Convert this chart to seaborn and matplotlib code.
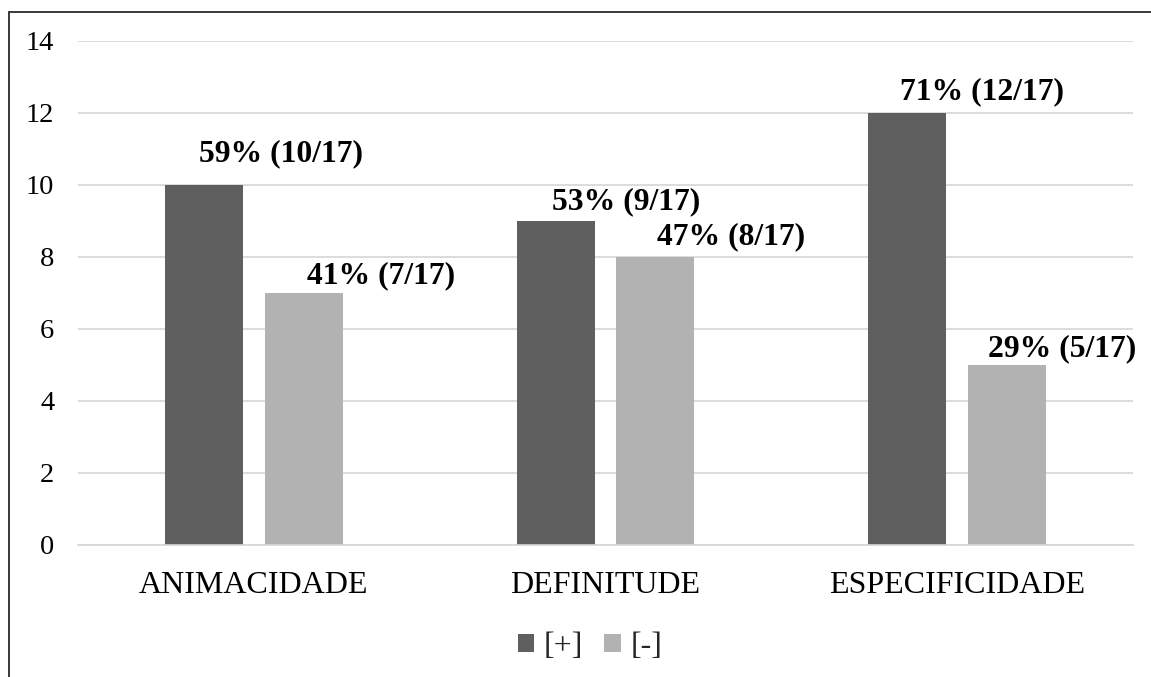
import matplotlib
matplotlib.use("Agg")
import matplotlib.pyplot as plt
from matplotlib.lines import Line2D
from matplotlib.patches import Patch
import pandas as pd
import seaborn as sns

# Data
categories = ["ANIMACIDADE", "DEFINITUDE", "ESPECIFICIDADE"]
series = ["[+]", "[-]"]
counts_pos = [10, 9, 12]
counts_neg = [7, 8, 5]
total = 17
y_ticks = [0, 2, 4, 6, 8, 10, 12, 14]

# Label placement (pixel offsets from each bar's top centre)
label_offsets = {
    "[+]": [(77.5, 31), (71, 19), (75, 21.5)],
    "[-]": [(77, 17), (76, 20), (55, 16)],
}

colors = {"[+]": "#5f5f5f", "[-]": "#b2b2b2"}

df = pd.DataFrame({
    "categoria": categories * 2,
    "grupo": [series[0]] * 3 + [series[1]] * 3,
    "n": counts_pos + counts_neg,
})

sns.set_theme(style="white")
plt.rcParams["font.family"] = ["Liberation Serif", "DejaVu Serif"]

DPI = 100
fig = plt.figure(figsize=(11.51, 6.77), dpi=DPI)
ax = fig.add_axes([78 / 1151, 1 - 545 / 677, (1133 - 78) / 1151, (545 - 41) / 677])

sns.barplot(data=df, x="categoria", y="n", hue="grupo", order=categories,
            hue_order=series, palette=colors, width=0.568, gap=0.22,
            saturation=1, legend=False, ax=ax, edgecolor="none")

ax.set_ylim(0, 14)
ax.set_xlim(-0.5, 2.5)
ax.set_yticks(y_ticks)
ax.set_yticklabels([str(t) for t in y_ticks])
ax.set_xlabel("")
ax.set_ylabel("")
ax.yaxis.grid(True, color="#d6d6d6", linewidth=1.2)
ax.set_axisbelow(True)
for side in ["top", "right", "left"]:
    ax.spines[side].set_visible(False)
ax.spines["bottom"].set_color("#d6d6d6")
ax.spines["bottom"].set_linewidth(1.2)
ax.tick_params(axis="y", length=0, pad=17, labelsize=20.5, colors="black")
ax.tick_params(axis="x", length=0, pad=19, labelsize=23, colors="black")

# Value labels
px = 72.0 / DPI
for level, container in zip(series, ax.containers):
    for i, bar in enumerate(container):
        val = bar.get_height()
        pct = round(val / total * 100)
        dx, dy = label_offsets[level][i]
        ax.annotate(f"{pct}% ({int(val)}/{total})",
                    xy=(bar.get_x() + bar.get_width() / 2, val),
                    xytext=(dx * px, dy * px), textcoords="offset points",
                    ha="center", va="center", fontsize=22.75,
                    fontweight="bold", color="black", annotation_clip=False)

# Legend below the plot
handles = [Patch(facecolor=colors[s], edgecolor="none", label=s) for s in series]
fig.legend(handles=handles, loc="center", bbox_to_anchor=(590 / 1151, 1 - 647 / 677),
           ncol=2, frameon=False, fontsize=23, handlelength=0.52, handleheight=0.52,
           handletextpad=0.3, columnspacing=0.65, borderpad=0)

# Chart frame (left and top edges)
frame_color = "#3a3a3a"
fig.add_artist(Line2D([9 / 1151, 9 / 1151], [0, 1 - 12 / 677], transform=fig.transFigure,
                      color=frame_color, linewidth=1.4))
fig.add_artist(Line2D([9 / 1151, 1], [1 - 12 / 677, 1 - 12 / 677], transform=fig.transFigure,
                      color=frame_color, linewidth=1.4))

fig.savefig("out.png", dpi=DPI, facecolor="white")
